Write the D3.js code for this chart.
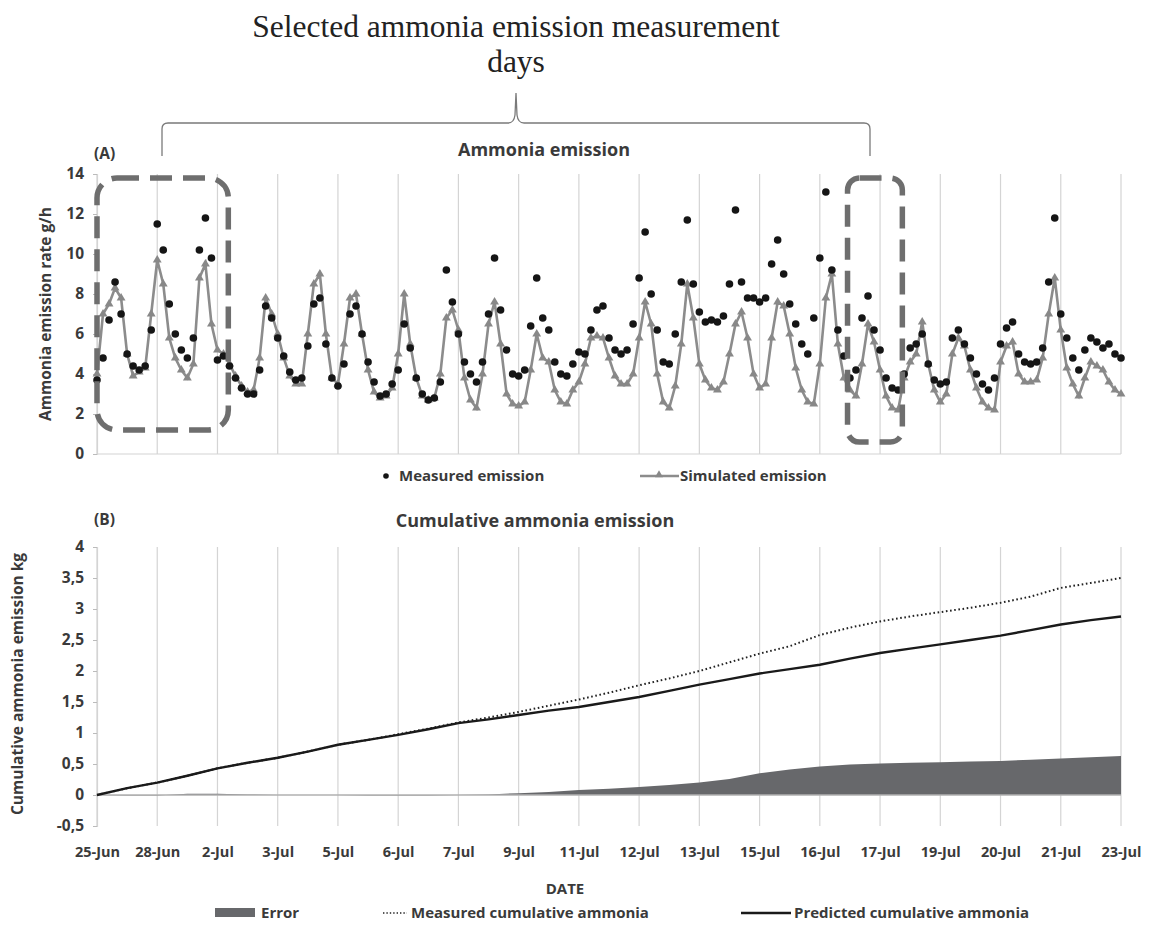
<!DOCTYPE html>
<html><head><meta charset="utf-8">
<script src="https://cdn.jsdelivr.net/npm/d3@7/dist/d3.min.js"></script>
<style>
body{margin:0;background:#fff;}
svg text{font-family:"Open Sans","Lato",sans-serif;}
</style></head>
<body><svg id="c" width="1156" height="952"></svg>
<script>
// ---- DATA ----
const dateLabels = ["25-Jun","28-Jun","2-Jul","3-Jul","5-Jul","6-Jul","7-Jul","9-Jul","11-Jul","12-Jul","13-Jul","15-Jul","16-Jul","17-Jul","19-Jul","20-Jul","21-Jul","23-Jul"];
const pointsPerLabel = 10;
const measuredEmission = [
3.7,4.8,6.7,8.6,7.0,5.0,4.4,4.2,4.4,6.2,
11.5,10.2,7.5,6.0,5.2,4.8,5.8,10.2,11.8,9.8,
4.7,4.9,4.4,3.8,3.3,3.0,3.0,4.2,7.4,6.8,
5.8,4.9,4.1,3.7,3.8,5.4,7.5,7.8,5.5,3.8,
3.4,4.5,7.0,7.4,6.0,4.6,3.6,2.9,3.0,3.5,
4.2,6.5,5.3,3.8,3.0,2.7,2.8,3.6,9.2,7.6,
6.0,4.6,4.0,3.6,4.6,7.0,9.8,7.2,5.2,4.0,
3.9,4.2,6.4,8.8,6.8,6.2,4.6,4.0,3.9,4.5,
5.1,5.0,6.2,7.2,7.4,5.8,5.2,5.0,5.2,6.5,
8.8,11.1,8.0,6.2,4.6,4.5,6.0,8.6,11.7,8.5,
7.1,6.6,6.7,6.6,6.9,8.5,12.2,8.6,7.8,7.8,
7.6,7.8,9.5,10.7,9.0,7.5,6.5,5.5,5.0,6.8,
9.8,13.1,9.2,6.2,4.9,3.8,4.2,6.8,7.9,6.2,
5.2,3.8,3.3,3.2,4.0,5.3,5.5,6.0,4.5,3.7,
3.5,3.6,5.8,6.2,5.5,4.8,4.0,3.5,3.2,3.8,
5.5,6.3,6.6,5.0,4.6,4.5,4.6,5.3,8.6,11.8,
7.0,5.8,4.8,4.2,5.2,5.8,5.6,5.3,5.5,5.0,
4.8];
const simulatedEmission = [
4.0,7.0,7.5,8.3,7.8,5.0,3.9,4.1,4.3,7.0,
9.7,8.5,5.8,4.8,4.2,3.8,4.5,8.8,9.5,6.5,
5.2,5.0,4.5,3.9,3.4,3.1,3.2,4.8,7.8,7.0,
6.0,4.8,3.9,3.5,3.5,6.0,8.5,9.0,6.0,3.8,
3.5,5.5,7.8,8.0,6.0,4.2,3.1,2.8,2.9,3.3,
5.0,8.0,5.5,3.8,2.9,2.7,2.8,4.0,6.8,7.2,
6.2,3.8,2.7,2.3,4.0,6.5,7.6,5.5,3.0,2.5,
2.4,2.6,4.2,6.0,4.8,4.6,3.2,2.6,2.5,3.2,
3.6,4.5,5.8,5.9,5.8,4.8,3.9,3.5,3.5,4.0,
5.8,7.6,6.5,4.0,2.6,2.3,3.4,5.5,8.5,6.8,
4.5,3.7,3.3,3.2,3.6,5.0,6.5,7.1,5.8,4.0,
3.3,3.5,5.8,7.6,7.4,6.0,4.3,3.2,2.6,2.5,
4.5,7.8,9.0,5.5,3.8,3.2,2.9,4.5,6.5,5.6,
4.2,2.9,2.3,2.2,3.8,4.6,5.0,6.6,4.5,3.2,
2.6,3.0,5.0,5.8,5.4,4.2,3.3,2.6,2.3,2.2,
4.6,5.4,5.6,4.0,3.6,3.6,3.7,4.8,7.0,8.8,
6.2,4.3,3.5,2.9,3.8,4.6,4.4,4.2,3.6,3.2,
3.0];
const cumStep = 5;
const measuredCumulative = [0,0.11,0.2,0.31,0.43,0.52,0.6,0.7,0.81,0.89,0.98,1.07,1.17,1.25,1.34,1.44,1.54,1.65,1.77,1.88,2.0,2.14,2.28,2.4,2.58,2.7,2.8,2.88,2.95,3.02,3.1,3.2,3.34,3.42,3.5];
const predictedCumulative = [0,0.11,0.2,0.31,0.43,0.52,0.6,0.7,0.81,0.89,0.97,1.06,1.16,1.22,1.29,1.36,1.42,1.5,1.58,1.68,1.78,1.87,1.96,2.03,2.1,2.2,2.29,2.36,2.43,2.5,2.57,2.66,2.75,2.82,2.88];
const errorCumulative = [0,-0.01,-0.01,0.02,0.02,0.01,0,0,0,-0.01,-0.01,-0.01,0,0.01,0.03,0.05,0.08,0.1,0.13,0.16,0.2,0.26,0.35,0.41,0.46,0.49,0.51,0.52,0.53,0.54,0.55,0.57,0.59,0.61,0.63];
const yTicksA = [0,2,4,6,8,10,12,14];
const yTicksB = [-0.5,0,0.5,1,1.5,2,2.5,3,3.5,4];

// ---- CHART ----
const svg = d3.select("#c");
const txt = "#3a3a3a";
const grid = "#d4d4d4";
const nIdx = (dateLabels.length-1)*pointsPerLabel;
const x = d3.scaleLinear().domain([0,nIdx]).range([97,1121]);
const yA = d3.scaleLinear().domain([0,14]).range([454,174]);
const yB = d3.scaleLinear().domain([-0.5,4]).range([826,547]);
const gridIdx = dateLabels.map((d,i)=>i*pointsPerLabel);
const serif = "'Liberation Serif','Times New Roman',serif";

// Top annotation
svg.append("text").attr("x",516).attr("y",37).attr("text-anchor","middle")
  .style("font-family",serif).style("font-size","31.5px").attr("fill","#222")
  .text("Selected ammonia emission measurement");
svg.append("text").attr("x",516).attr("y",72).attr("text-anchor","middle")
  .style("font-family",serif).style("font-size","31.5px").attr("fill","#222")
  .text("days");
const bx0=162,bx1=870,bm=516,by=123,btop=93,bend=156;
svg.append("path").attr("fill","none").attr("stroke","#7a7a7a").attr("stroke-width",1.3)
  .attr("d",`M${bx0},${bend} L${bx0},${by+6} Q${bx0},${by} ${bx0+6},${by} L${bm-8},${by} Q${bm-2},${by} ${bm-1},${by-8} L${bm},${btop} L${bm+1},${by-8} Q${bm+2},${by} ${bm+8},${by} L${bx1-6},${by} Q${bx1},${by} ${bx1},${by+6} L${bx1},${bend}`);

// ---------- Panel A ----------
const gA = svg.append("g");
gA.selectAll("line.grid").data(gridIdx).enter().append("line")
  .attr("x1",d=>x(d)).attr("x2",d=>x(d)).attr("y1",yA(14)).attr("y2",yA(0))
  .attr("stroke",grid).attr("stroke-width",1.2);
gA.append("line").attr("x1",x(0)).attr("x2",x(nIdx)).attr("y1",yA(0)).attr("y2",yA(0)).attr("stroke",grid).attr("stroke-width",1.2);
const axA = gA.append("g").attr("transform",`translate(${x(0)},0)`)
  .call(d3.axisLeft(yA).tickValues(yTicksA).tickSize(4).tickPadding(9));
axA.select(".domain").attr("stroke",grid).attr("stroke-width",1.2);
axA.selectAll(".tick line").attr("stroke","#bbb");
axA.selectAll("text").style("font-size","15.5px").style("font-weight","bold").attr("fill",txt);
gA.append("text").attr("transform","translate(51,314) rotate(-90)").attr("text-anchor","middle")
  .style("font-size","15.5px").style("font-weight","bold").attr("fill",txt).text("Ammonia emission rate g/h");
gA.append("text").attr("x",94).attr("y",159).style("font-size","15.5px").style("font-weight","bold").attr("fill",txt).text("(A)");
gA.append("text").attr("x",544).attr("y",156).attr("text-anchor","middle").style("font-size","18px").style("font-weight","bold").attr("fill",txt).text("Ammonia emission");

// simulated
gA.append("path").datum(simulatedEmission).attr("fill","none").attr("stroke","#8c8c8c").attr("stroke-width",2.6)
  .attr("d",d3.line().x((d,i)=>x(i)).y(d=>yA(d)));
gA.selectAll("path.tri").data(simulatedEmission).enter().append("path")
  .attr("transform",(d,i)=>`translate(${x(i)},${yA(d)})`)
  .attr("d",d3.symbol(d3.symbolTriangle).size(34)).attr("fill","#888");
// measured
gA.selectAll("circle.m").data(measuredEmission).enter().append("circle")
  .attr("cx",(d,i)=>x(i)).attr("cy",d=>yA(d)).attr("r",3.8).attr("fill","#151515");

// dashed boxes (selected days)
function dashBox(i0,i1,v0,v1,r){
  gA.append("rect").attr("x",x(i0)).attr("y",yA(v1)).attr("width",x(i1)-x(i0)).attr("height",yA(v0)-yA(v1))
    .attr("rx",r).attr("ry",r).attr("fill","none").attr("stroke","#6e6e6e").attr("stroke-width",5.5)
    .attr("stroke-dasharray","22,11");
}
dashBox(0,21.8,1.2,13.8,20);
dashBox(124.6,133.7,0.6,13.8,12);

// legend A
gA.append("circle").attr("cx",386).attr("cy",476).attr("r",2.8).attr("fill","#151515");
gA.append("text").attr("x",399).attr("y",481).style("font-size","15px").style("font-weight","bold").attr("fill",txt).text("Measured emission");
gA.append("line").attr("x1",640).attr("x2",679).attr("y1",476).attr("y2",476).attr("stroke","#8c8c8c").attr("stroke-width",2.4);
gA.append("path").attr("transform","translate(659,475)").attr("d",d3.symbol(d3.symbolTriangle).size(28)).attr("fill","#888");
gA.append("text").attr("x",680).attr("y",481).style("font-size","15px").style("font-weight","bold").attr("fill",txt).text("Simulated emission");

// ---------- Panel B ----------
const gB = svg.append("g");
gB.selectAll("line.grid").data(gridIdx).enter().append("line")
  .attr("x1",d=>x(d)).attr("x2",d=>x(d)).attr("y1",yB(4)).attr("y2",yB(-0.5))
  .attr("stroke",grid).attr("stroke-width",1.2);
const axB = gB.append("g").attr("transform",`translate(${x(0)},0)`)
  .call(d3.axisLeft(yB).tickValues(yTicksB).tickSize(4).tickPadding(9).tickFormat(d=>String(d).replace(".",",")));
axB.select(".domain").attr("stroke",grid).attr("stroke-width",1.2);
axB.selectAll(".tick line").attr("stroke","#bbb");
axB.selectAll("text").style("font-size","15.5px").style("font-weight","bold").attr("fill",txt);
const axBx = gB.append("g").attr("transform",`translate(0,${yB(-0.5)})`)
  .call(d3.axisBottom(x).tickValues(gridIdx).tickSize(0).tickPadding(21).tickFormat((d,i)=>dateLabels[i]));
axBx.select(".domain").remove();
axBx.selectAll("text").style("font-size","14.5px").style("font-weight","bold").attr("fill",txt);
gB.append("text").attr("transform","translate(23,684) rotate(-90)").attr("text-anchor","middle")
  .style("font-size","15.5px").style("font-weight","bold").attr("fill",txt).text("Cumulative ammonia emission kg");
gB.append("text").attr("x",94).attr("y",525).style("font-size","15.5px").style("font-weight","bold").attr("fill",txt).text("(B)");
gB.append("text").attr("x",535).attr("y",527).attr("text-anchor","middle").style("font-size","18px").style("font-weight","bold").attr("fill",txt).text("Cumulative ammonia emission");

// error area
gB.append("path").datum(errorCumulative).attr("fill","#67686b")
  .attr("d",d3.area().x((d,i)=>x(i*cumStep)).y0(yB(0)).y1(d=>yB(d)));
gB.append("line").attr("x1",x(0)).attr("x2",x(nIdx)).attr("y1",yB(0)).attr("y2",yB(0)).attr("stroke","#b0b0b0").attr("stroke-width",1.5);
gB.append("path").datum(measuredCumulative).attr("fill","none").attr("stroke","#222").attr("stroke-width",2)
  .attr("stroke-dasharray","1.6,2.6")
  .attr("d",d3.line().x((d,i)=>x(i*cumStep)).y(d=>yB(d)));
gB.append("path").datum(predictedCumulative).attr("fill","none").attr("stroke","#1a1a1a").attr("stroke-width",2.4)
  .attr("d",d3.line().x((d,i)=>x(i*cumStep)).y(d=>yB(d)));

gB.append("text").attr("x",565).attr("y",894).attr("text-anchor","middle").style("font-size","15px").style("font-weight","bold").attr("fill",txt).text("DATE");
// legend B
gB.append("rect").attr("x",215).attr("y",908).attr("width",40).attr("height",9).attr("fill","#67686b");
gB.append("text").attr("x",261).attr("y",918).style("font-size","15px").style("font-weight","bold").attr("fill",txt).text("Error");
gB.append("line").attr("x1",383).attr("x2",407).attr("y1",913).attr("y2",913).attr("stroke","#222").attr("stroke-width",1.6).attr("stroke-dasharray","1.4,2");
gB.append("text").attr("x",411).attr("y",918).style("font-size","15px").style("font-weight","bold").attr("fill",txt).text("Measured cumulative ammonia");
gB.append("line").attr("x1",741).attr("x2",791).attr("y1",913).attr("y2",913).attr("stroke","#1a1a1a").attr("stroke-width",2.6);
gB.append("text").attr("x",794).attr("y",918).style("font-size","15px").style("font-weight","bold").attr("fill",txt).text("Predicted cumulative ammonia");
</script></body></html>
